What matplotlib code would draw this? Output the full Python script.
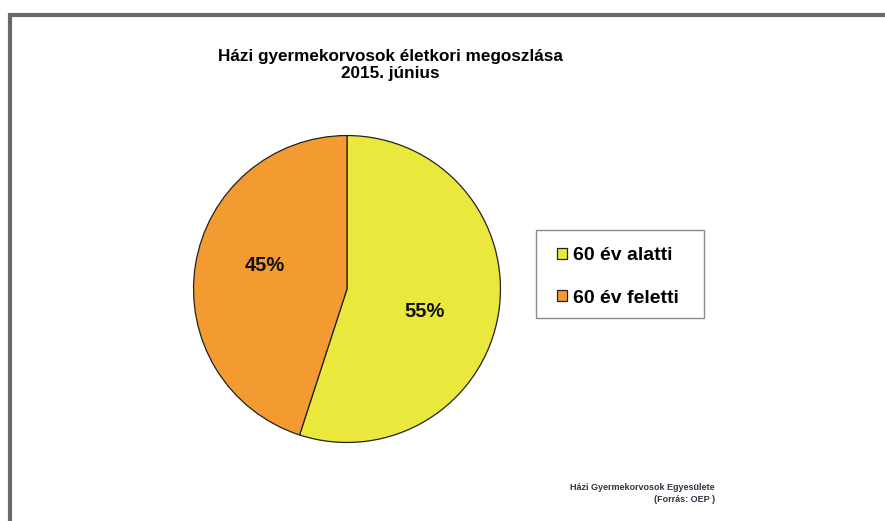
import matplotlib
matplotlib.use('Agg')
import matplotlib.pyplot as plt
from matplotlib.patches import Rectangle

plt.rcParams['font.family'] = ['Liberation Sans', 'DejaVu Sans']

# data
labels = ["60 év alatti", "60 év feletti"]
shares = [55, 45]
colors = ["#EAE83C", "#F39A30"]

title = "Házi gyermekorvosok életkori megoszlása\n2015. június"
source_lines = ["Házi Gyermekorvosok Egyesülete", "(Forrás: OEP )"]

W, H = 885, 521
fig = plt.figure(figsize=(W / 100, H / 100), dpi=100)

# gray frame around the slide
fig.add_artist(Rectangle((9.5 / W, -0.1), 1.2, 1.1 - 14.5 / H, transform=fig.transFigure,
                         fill=False, edgecolor="#6a6a6a", linewidth=3))

# pie axes: centre (347, 289) px, radius 155 px
cx, cy, r = 347, 289, 155
ax = fig.add_axes([(cx - r) / W, (H - cy - r) / H, 2 * r / W, 2 * r / H])
wedges, texts, autotexts = ax.pie(
    shares, colors=colors, startangle=90, counterclock=False,
    autopct='%d%%', pctdistance=0.53,
    wedgeprops=dict(edgecolor="#222222", linewidth=0.9),
    textprops=dict(fontsize=14.5, fontweight='bold', color='#111111'))
# percentage labels sit a bit further from the horizontal than matplotlib puts them
autotexts[0].set_position((0.506, -0.145))
autotexts[1].set_position((-0.535, 0.155))
ax.set_xlim(-1.01, 1.01)
ax.set_ylim(-1.01, 1.01)
ax.set_aspect('equal')

fig.text(390 / W, 1 - 65 / H, title, ha='center', va='center',
         fontsize=12.3, fontweight='bold', linespacing=1.15)

# legend box drawn by hand, entries via legend without frame
fig.add_artist(Rectangle((536 / W, 1 - 318 / H), 168 / W, 88 / H, transform=fig.transFigure,
                         fill=False, edgecolor="#8a8a8a", linewidth=1.0))
leg = fig.legend(wedges, labels, loc='center left', bbox_to_anchor=(557 / W, 1 - 277 / H),
                 frameon=False, prop=dict(size=14, weight='bold'),
                 handlelength=0.5, handleheight=0.5,
                 handletextpad=0.3, labelspacing=1.3, borderpad=0, borderaxespad=0)

fig.text(715 / W, 1 - 487 / H, source_lines[0], ha='right', va='center',
         fontsize=6.5, fontweight='bold', color='#333344')
fig.text(715 / W, 1 - 500 / H, source_lines[1], ha='right', va='center',
         fontsize=6.5, fontweight='bold', color='#333344')

fig.savefig("out.png", dpi=100)
